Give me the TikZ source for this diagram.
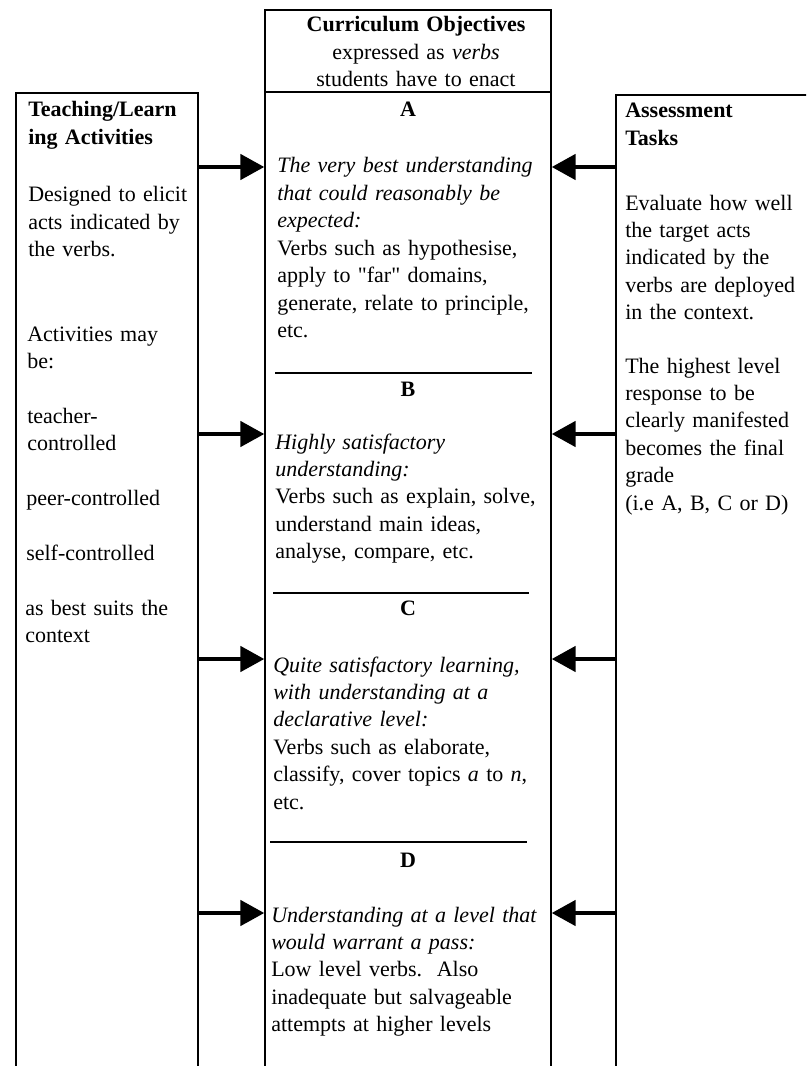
\documentclass[tikz,border=0pt]{standalone}
\usepackage{fontspec}
\setmainfont{Liberation Serif}
\usetikzlibrary{arrows.meta,fit}

\newcommand{\colfont}{\fontsize{16.5}{20.6}\selectfont}

\begin{document}
\begin{tikzpicture}[x=0.75pt,y=-0.75pt,
	colbox/.style={draw,line width=1.1pt,inner sep=0pt},
	txt/.style={anchor=base west,align=left,inner sep=0pt,font=\colfont},
	headtxt/.style={anchor=base,align=center,inner sep=0pt,font=\colfont\bfseries},
	lvl/.style={anchor=base,inner sep=0pt,font=\colfont\bfseries},
	divider/.style={line width=0.8pt},
	arr/.style={line width=3pt,-{Triangle[length=18pt,width=19pt]}}
	]
	\useasboundingbox (0,0) rectangle (806,1066);
	\clip (0,0) rectangle (806,1066);
	
	% the three columns
	\node[colbox,fit={(16,93) (198,1100)}] (teach) {};
	\node[colbox,fit={(265,10) (551,92)}] (objhead) {};
	\node[colbox,fit={(265,92) (551,1100)}] (obj) {};
	\node[colbox,fit={(616,95) (840,1100)}] (assess) {};
	
	% the teaching column
	\node[txt,font=\colfont\bfseries,text width=140pt] (tl) at (28,117) {Teaching/Learn\\ing Activities};
	\node[txt,text width=140pt] (t1) at (28,202) {Designed to elicit\\acts indicated by\\the verbs.};
	\node[txt,text width=140pt] (t2) at (27,341) {Activities may\\be:};
	\node[txt,text width=140pt] (t3) at (27,423) {teacher-\\controlled};
	\node[txt,text width=140pt] (t4) at (26,505) {peer-controlled};
	\node[txt,text width=140pt] (t5) at (26,560) {self-controlled};
	\node[txt,text width=140pt] (t6) at (25,615) {as best suits the\\context};
	
	% the objectives column
	\node[headtxt,text width=210pt] (ht) at (416,32) {Curriculum Objectives\\\mdseries expressed as \textit{verbs}\\students have to enact};
	\foreach \g/\y in {A/117,B/396,C/615,D/867}
	\node[lvl] (g\g) at (408,\y) {\g};
	\node[txt,text width=210pt] (oA) at (277,173) {{\itshape The very best understanding\\that could reasonably be\\expected:}\\Verbs such as hypothesise,\\apply to \textquotedbl far\textquotedbl{} domains,\\generate, relate to principle,\\etc.};
	\node[txt,text width=210pt] (oB) at (275,449) {{\itshape Highly satisfactory\\understanding:}\\Verbs such as explain, solve,\\understand main ideas,\\analyse, compare, etc.};
	\node[txt,text width=210pt] (oC) at (273,672) {{\itshape Quite satisfactory learning,\\with understanding at a\\declarative level:}\\Verbs such as elaborate,\\classify, cover topics \textit{a} to \textit{n},\\etc.};
	\node[txt,text width=210pt] (oD) at (271,922) {{\itshape Understanding at a level that\\would warrant a pass:}\\Low level verbs.\ \ Also\\inadequate but salvageable\\attempts at higher levels};
	
	% the rules between the levels
	\draw[divider] (275,373) -- (532,373);
	\draw[divider] (273,593) -- (529,593);
	\draw[divider] (270,842) -- (527,842);
	
	% the assessment column
	\node[txt,font=\colfont\bfseries,text width=150pt] (al) at (625,118) {Assessment\\Tasks};
	\node[txt,text width=150pt] (a1) at (625,210) {Evaluate how well\\the target acts\\indicated by the\\verbs are deployed\\in the context.};
	\node[txt,text width=150pt] (a2) at (625,373) {The highest level\\response to be\\clearly manifested\\becomes the final\\grade\\(i.e A, B, C or D)};
	
	% the arrows
	\foreach \g/\y in {A/167,B/434,C/659,D/913}{
		\coordinate (y\g) at (0,\y);
		\draw[arr] (teach.east |- y\g) -- (obj.west |- y\g);
		\draw[arr] (assess.west |- y\g) -- (obj.east |- y\g);
	}
\end{tikzpicture}
\end{document}
